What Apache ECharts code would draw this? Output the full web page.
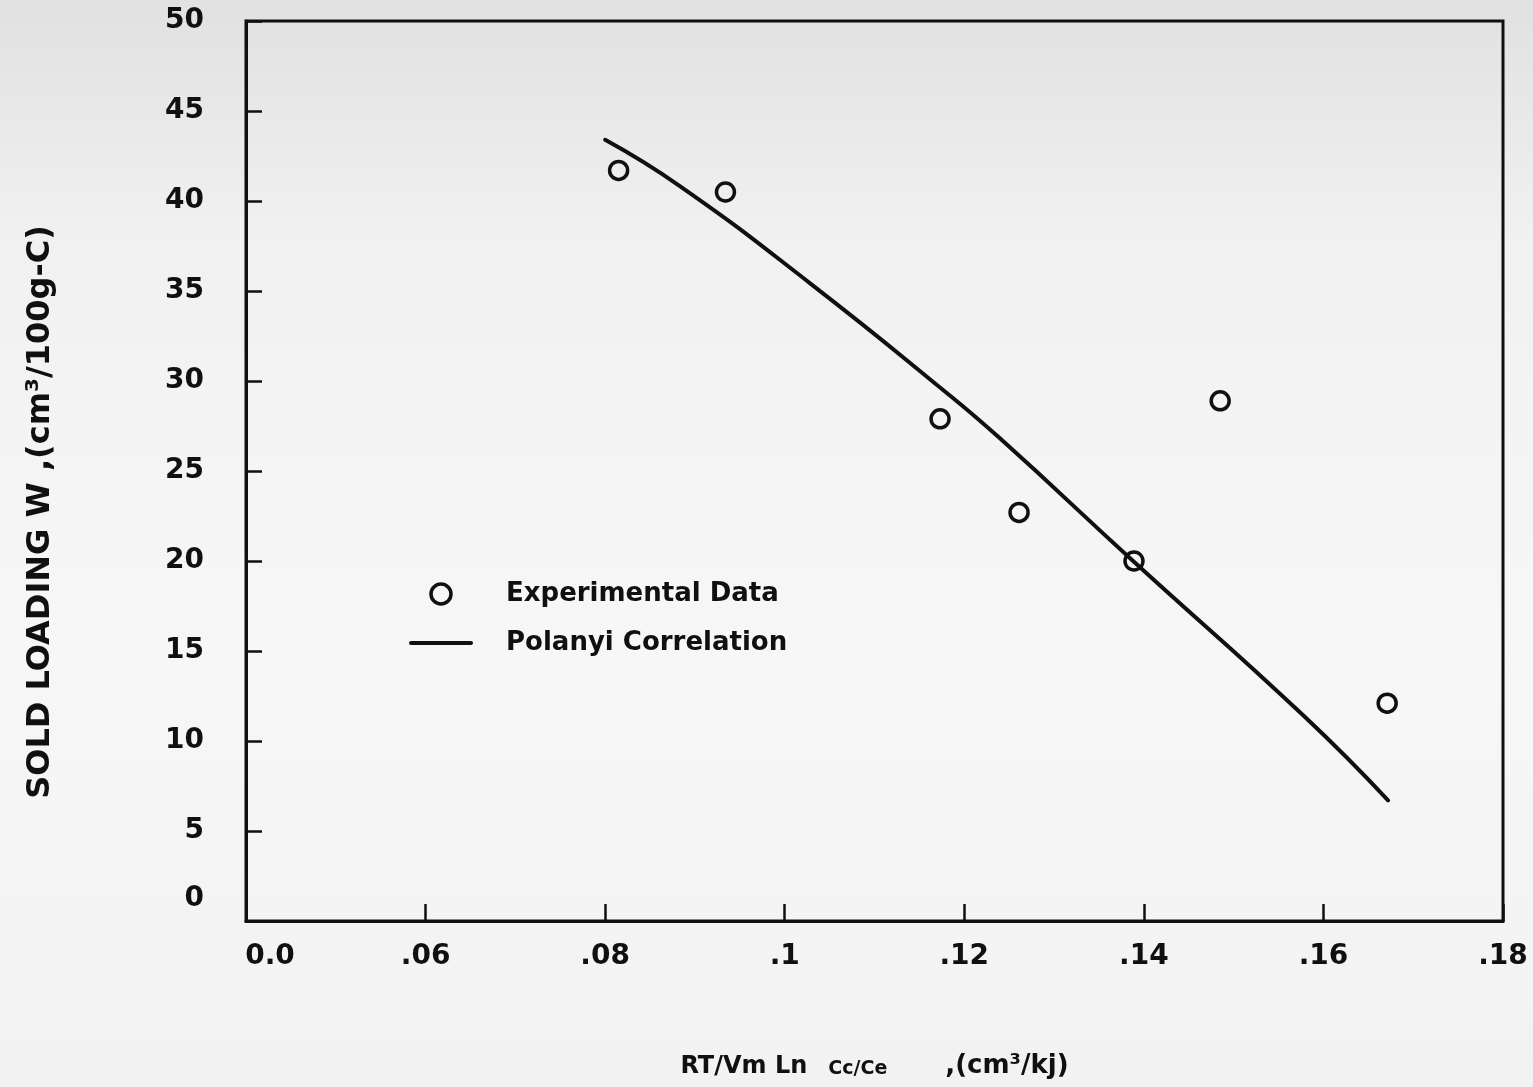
<!DOCTYPE html>
<html>
<head>
<meta charset="utf-8">
<script src="https://cdn.jsdelivr.net/npm/echarts@6/dist/echarts.min.js"></script>
<style>
  html, body { margin: 0; padding: 0; }
  #chart { width: 1533px; height: 1087px; }
</style>
</head>
<body>
<div id="chart"></div>
<script>
// Broken x axis: the first tick is labelled 0.0, the rest run .06 ... .18
const xTickValues = [0.04, 0.06, 0.08, 0.10, 0.12, 0.14, 0.16, 0.18];
const xTickLabels = ['0.0', '.06', '.08', '.1', '.12', '.14', '.16', '.18'];

// Experimental solid loading points
const expX = [0.0815, 0.0934, 0.1173, 0.1261, 0.1389, 0.1485, 0.1671];
const expY = [41.7, 40.5, 27.9, 22.7, 20.0, 28.9, 12.1];

// Polanyi correlation curve
const fitX = [0.0800, 0.0884, 0.1029, 0.1174, 0.1240, 0.1388, 0.1578, 0.1672];
const fitY = [43.4, 40.8, 35.4, 29.6, 26.8, 20.0, 11.4, 6.7];

const INK = '#101010';
const FONT = 'DejaVu Sans';

const chart = echarts.init(document.getElementById('chart'), null, { renderer: 'canvas' });

chart.setOption({
  animation: false,
  backgroundColor: {
    type: 'linear', x: 0, y: 0, x2: 0, y2: 1,
    colorStops: [
      { offset: 0, color: '#e1e1e1' },
      { offset: 0.22, color: '#f1f1f1' },
      { offset: 0.6, color: '#f7f7f7' },
      { offset: 1, color: '#f2f2f2' }
    ]
  },
  grid: {
    left: 246, right: 30, top: 21, bottom: 166,
    show: true, borderColor: INK, borderWidth: 3, backgroundColor: 'transparent'
  },
  legend: {
    orient: 'vertical',
    left: 404, top: 576,
    itemWidth: 60, itemHeight: 20, itemGap: 23,
    data: [
      { name: 'Experimental Data', itemStyle: { color: 'rgba(0,0,0,0)', borderColor: INK, borderWidth: 3.5 } },
      { name: 'Polanyi Correlation', itemStyle: { opacity: 0 }, lineStyle: { color: INK, width: 4 } }
    ],
    formatter: name => '{t|' + name + '}',
    textStyle: {
      rich: {
        t: { fontFamily: FONT, fontWeight: 'bold', fontSize: 26, color: INK, padding: [0, 0, 0, 30] }
      }
    }
  },
  xAxis: {
    type: 'value',
    min: 0.04, max: 0.18, interval: 0.02,
    axisLine: { show: true, lineStyle: { color: INK, width: 3 } },
    axisTick: { show: true, inside: true, length: 17, lineStyle: { color: INK, width: 2.5 } },
    splitLine: { show: false },
    axisLabel: {
      margin: 22,
      formatter: v => {
        const i = Math.round((v - xTickValues[0]) / 0.02);
        return i === 0 ? '{z|' + xTickLabels[i] + '}' : '{n|' + xTickLabels[i] + '}';
      },
      rich: {
        n: { fontFamily: FONT, fontWeight: 'bold', fontSize: 28, color: INK },
        z: { fontFamily: FONT, fontWeight: 'bold', fontSize: 28, color: INK, padding: [0, 0, 0, 48] }
      }
    },
    name: '{a|RT/Vm Ln}{b|Cc/Ce}{c|,(cm³/kj)}',
    nameLocation: 'middle',
    nameGap: 132,
    nameTextStyle: {
      rich: {
        a: { fontFamily: FONT, fontWeight: 'bold', fontSize: 24, color: INK, verticalAlign: 'bottom' },
        b: { fontFamily: FONT, fontWeight: 'bold', fontSize: 19, color: INK, padding: [0, 58, 0, 21], verticalAlign: 'bottom' },
        c: { fontFamily: FONT, fontWeight: 'bold', fontSize: 26, color: INK, padding: [0, 0, 0, 0], verticalAlign: 'bottom' }
      }
    }
  },
  yAxis: {
    type: 'value',
    min: 0, max: 50, interval: 5,
    axisLine: { show: true, lineStyle: { color: INK, width: 3 } },
    axisTick: { show: true, inside: true, length: 16, lineStyle: { color: INK, width: 2.5 } },
    splitLine: { show: false },
    axisLabel: {
      margin: 42,
      formatter: v => (v === 0 ? '{z|0}' : '{n|' + v + '}'),
      rich: {
        n: { fontFamily: FONT, fontWeight: 'bold', fontSize: 28, color: INK },
        z: { fontFamily: FONT, fontWeight: 'bold', fontSize: 28, color: INK, padding: [0, 0, 44, 0] }
      }
    },
    name: 'SOLD LOADING W ,(cm³/100g-C)',
    nameLocation: 'middle',
    nameRotate: 90,
    nameGap: 189,
    nameTextStyle: {
      fontFamily: FONT, fontWeight: 'bold', fontSize: 32, color: INK,
      padding: [0, 82, 0, 0]
    }
  },
  series: [
    {
      name: 'Experimental Data',
      type: 'scatter',
      symbol: 'circle',
      symbolSize: 18,
      itemStyle: { color: 'rgba(0,0,0,0)', borderColor: INK, borderWidth: 3.5, opacity: 1 },
      data: expX.map((x, i) => [x, expY[i]]),
      z: 3
    },
    {
      name: 'Polanyi Correlation',
      type: 'line',
      smooth: 0.5,
      showSymbol: false,
      symbol: 'none',
      lineStyle: { color: INK, width: 4, cap: 'round' },
      itemStyle: { color: INK },
      data: fitX.map((x, i) => [x, fitY[i]]),
      z: 2
    }
  ]
});
</script>
</body>
</html>
